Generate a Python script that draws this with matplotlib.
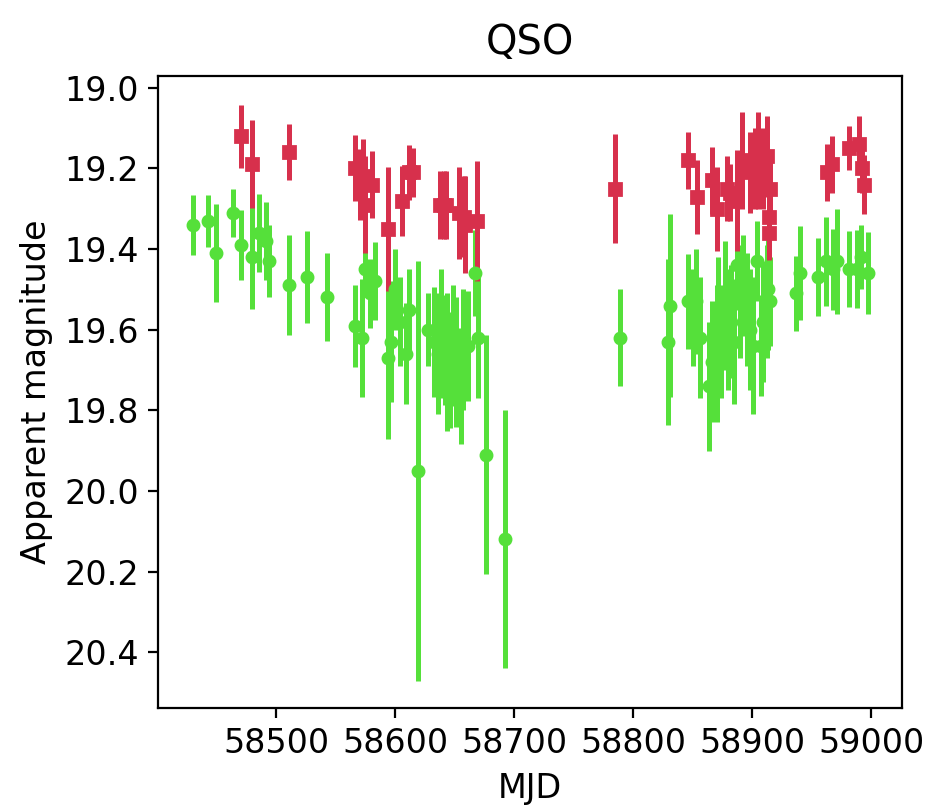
import numpy as np
import matplotlib
matplotlib.use("Agg")
import matplotlib.pyplot as plt

# g band (green circles)
mjd_g = [58430, 58443, 58450, 58464, 58471, 58480, 58486, 58492, 58494, 58511,
         58526, 58543, 58566, 58572, 58575, 58579, 58583, 58594, 58597, 58600,
         58604, 58609, 58612, 58619, 58628, 58633, 58636, 58639, 58642, 58644,
         58646, 58649, 58651, 58655, 58657, 58661, 58667, 58670, 58676, 58692,
         58789, 58829, 58831, 58846, 58850, 58853, 58856, 58864, 58866, 58870,
         58871, 58874, 58877, 58880, 58882, 58885, 58887, 58890, 58892, 58896,
         58898, 58901, 58904, 58907, 58909, 58912, 58913, 58915, 58937, 58940,
         58955, 58962, 58968, 58971, 58981, 58988, 58991, 58997]
mag_g = [19.34, 19.33, 19.41, 19.31, 19.39, 19.42, 19.36, 19.38, 19.43, 19.49,
         19.47, 19.52, 19.59, 19.62, 19.45, 19.51, 19.48, 19.67, 19.63, 19.50,
         19.58, 19.66, 19.55, 19.95, 19.60, 19.63, 19.66, 19.61, 19.65, 19.68,
         19.70, 19.64, 19.68, 19.74, 19.65, 19.64, 19.46, 19.62, 19.91, 20.12,
         19.62, 19.63, 19.54, 19.53, 19.57, 19.53, 19.62, 19.74, 19.68, 19.66,
         19.57, 19.63, 19.54, 19.60, 19.58, 19.63, 19.44, 19.53, 19.49, 19.55,
         19.60, 19.64, 19.43, 19.64, 19.58, 19.53, 19.50, 19.53, 19.51, 19.46,
         19.47, 19.43, 19.45, 19.43, 19.45, 19.45, 19.42, 19.46]
err_g = [0.074, 0.064, 0.121, 0.060, 0.087, 0.129, 0.097, 0.097, 0.089, 0.124,
         0.114, 0.109, 0.102, 0.146, 0.067, 0.085, 0.097, 0.200, 0.150, 0.100,
         0.110, 0.125, 0.100, 0.520, 0.090, 0.136, 0.150, 0.160, 0.136, 0.170,
         0.144, 0.150, 0.160, 0.144, 0.150, 0.136, 0.107, 0.150, 0.296, 0.320,
         0.120, 0.206, 0.228, 0.118, 0.120, 0.130, 0.150, 0.160, 0.150, 0.170,
         0.150, 0.140, 0.160, 0.150, 0.140, 0.155, 0.110, 0.140, 0.125, 0.140,
         0.150, 0.170, 0.100, 0.125, 0.150, 0.140, 0.150, 0.110, 0.092, 0.117,
         0.097, 0.110, 0.100, 0.130, 0.094, 0.097, 0.080, 0.102]

# r band (red squares)
mjd_r = [58471, 58480, 58511, 58566, 58571, 58573, 58575, 58581, 58594, 58606,
         58612, 58615, 58638, 58641, 58643, 58654, 58658, 58659, 58669, 58785,
         58846, 58854, 58866, 58870, 58879, 58881, 58887, 58891, 58898, 58902,
         58905, 58909, 58912, 58915, 58914, 58914.5, 58963, 58967, 58981, 58990,
         58992, 58994]
mag_r = [19.12, 19.19, 19.16, 19.20, 19.24, 19.22, 19.29, 19.24, 19.35, 19.28,
         19.21, 19.21, 19.29, 19.29, 19.29, 19.31, 19.32, 19.34, 19.33, 19.25,
         19.18, 19.27, 19.23, 19.30, 19.25, 19.26, 19.28, 19.18, 19.21, 19.20,
         19.18, 19.20, 19.17, 19.25, 19.32, 19.36, 19.21, 19.19, 19.15, 19.14,
         19.20, 19.24]
err_r = [0.078, 0.109, 0.069, 0.082, 0.087, 0.094, 0.121, 0.082, 0.154, 0.087,
         0.069, 0.060, 0.084, 0.084, 0.084, 0.114, 0.100, 0.120, 0.149, 0.136,
         0.071, 0.092, 0.084, 0.104, 0.080, 0.070, 0.125, 0.120, 0.100, 0.100,
         0.120, 0.100, 0.100, 0.080, 0.070, 0.067, 0.070, 0.070, 0.055, 0.070,
         0.060, 0.072]

green = '#55e03a'
red = '#d7304c'

fig = plt.figure(figsize=(4.64, 4.05), dpi=200)
ax = fig.add_axes([0.1706, 0.1259, 0.8014, 0.78])

ax.errorbar(mjd_g, mag_g, yerr=err_g, fmt='o', color=green, ms=4, elinewidth=1.8)
ax.errorbar(mjd_r, mag_r, yerr=err_r, fmt='s', color=red, ms=4.2, elinewidth=1.8)

ax.set_xlim(58401.2, 59025.8)
ax.set_ylim(20.538, 18.9715)
ax.set_xticks([58500, 58600, 58700, 58800, 58900, 59000])
ax.set_yticks(np.arange(19.0, 20.5, 0.2))
ax.tick_params(labelsize=12)

ax.set_title('QSO', fontsize=14.4, pad=8)
ax.set_xlabel('MJD', fontsize=12)
ax.set_ylabel('Apparent magnitude', fontsize=12)

fig.savefig('out.png', dpi=200)
